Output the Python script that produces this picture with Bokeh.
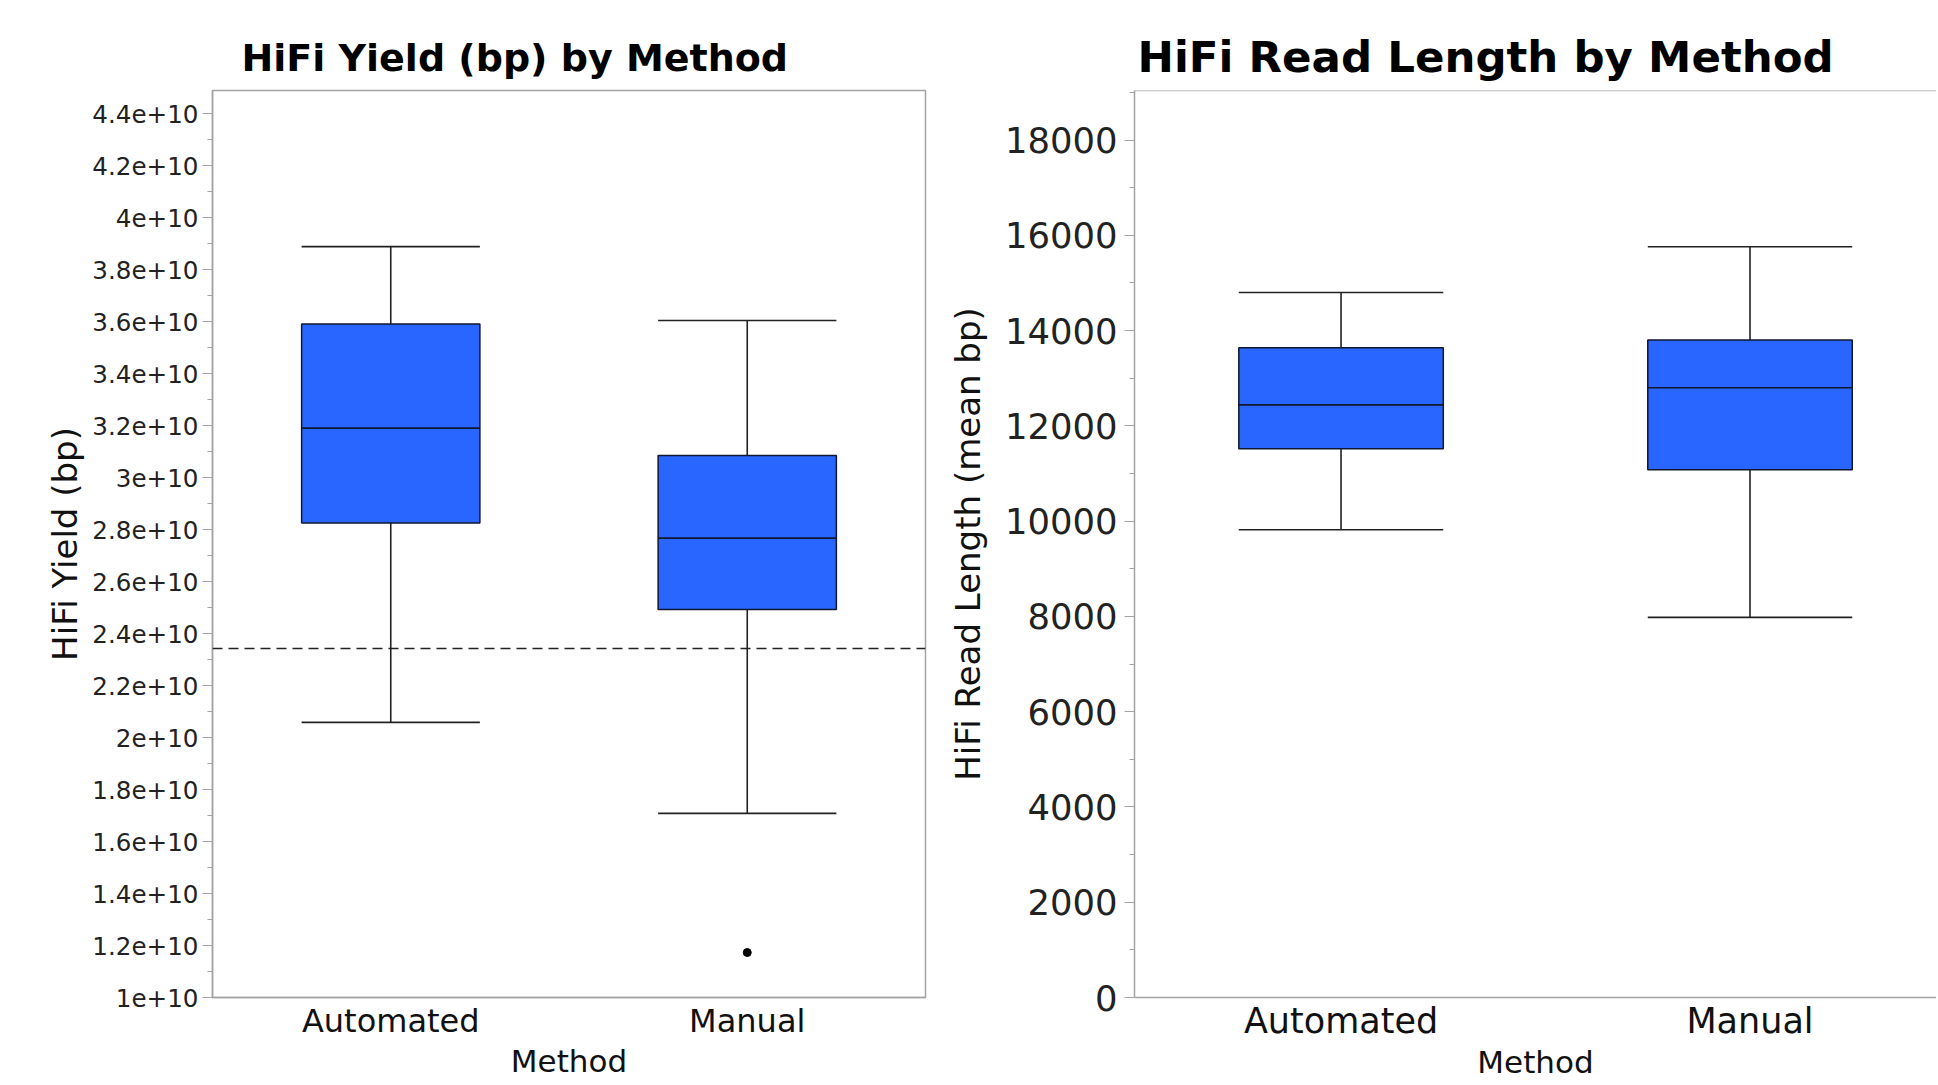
from bokeh.plotting import figure
from bokeh.models import FixedTicker, Span, Range1d
from bokeh.layouts import row
from bokeh.embed import file_html
from bokeh.resources import INLINE

# ---------------- data ----------------
methods = ["Automated", "Manual"]

yield_lower = [2.058e10, 1.708e10]
yield_q1 = [2.825e10, 2.492e10]
yield_median = [3.19e10, 2.767e10]
yield_q3 = [3.59e10, 3.085e10]
yield_upper = [3.888e10, 3.604e10]
yield_outlier_method = ["Manual"]
yield_outlier_value = [1.173e10]
yield_reference = 2.342e10

rl_lower = [9820, 7980]
rl_q1 = [11520, 11080]
rl_median = [12440, 12800]
rl_q3 = [13640, 13800]
rl_upper = [14800, 15760]

yield_ticks = [1.0e10, 1.2e10, 1.4e10, 1.6e10, 1.8e10, 2.0e10, 2.2e10, 2.4e10, 2.6e10,
               2.8e10, 3.0e10, 3.2e10, 3.4e10, 3.6e10, 3.8e10, 4.0e10, 4.2e10, 4.4e10]
yield_tick_labels = ["1e+10", "1.2e+10", "1.4e+10", "1.6e+10", "1.8e+10", "2e+10", "2.2e+10",
                     "2.4e+10", "2.6e+10", "2.8e+10", "3e+10", "3.2e+10", "3.4e+10", "3.6e+10",
                     "3.8e+10", "4e+10", "4.2e+10", "4.4e+10"]
rl_ticks = [0, 2000, 4000, 6000, 8000, 10000, 12000, 14000, 16000, 18000]
rl_tick_labels = ["0", "2000", "4000", "6000", "8000", "10000", "12000", "14000", "16000", "18000"]
x_title = "Method"

FONT = "DejaVu Sans"
BOX_FILL = "#2965FF"
AXIS_GREY = "#a3a3a3"
HEIGHT = 1084


def midpoints(ticks):
    return [(a + b) / 2 for a, b in zip(ticks[:-1], ticks[1:])] + [ticks[-1] + (ticks[1] - ticks[0]) / 2]


def make_plot(width, title, title_size, title_offset, title_standoff, x_start, x_end, y_start, y_end,
              lower, q1, med, q3, upper, ticks, tick_labels, tick_size, cat_size, cat_standoff,
              xlabel_size, ylabel, ylabel_standoff, tick_standoff, border_left, border_right):
    p = figure(width=width, height=HEIGHT, output_backend="svg", toolbar_location=None,
               x_range=Range1d(x_start, x_end), y_range=Range1d(y_start, y_end),
               min_border_left=border_left, min_border_right=border_right,
               min_border_top=90, min_border_bottom=HEIGHT - 997)
    p.background_fill_color = "white"
    p.border_fill_color = "white"
    p.grid.visible = False
    p.outline_line_color = AXIS_GREY
    p.outline_line_width = 1.5

    p.title.text = title
    p.title.text_font = FONT
    p.title.text_font_size = title_size
    p.title.text_font_style = "bold"
    p.title.text_color = "black"
    p.title.align = "left"
    p.title.offset = title_offset
    p.title.standoff = title_standoff

    xs = [i + 0.5 for i in range(len(methods))]
    half = 0.25

    # whiskers
    p.segment(x0=xs, y0=q3, x1=xs, y1=upper, line_color="#222222", line_width=1.6)
    p.segment(x0=xs, y0=q1, x1=xs, y1=lower, line_color="#222222", line_width=1.6)
    p.segment(x0=[x - half for x in xs], y0=upper, x1=[x + half for x in xs], y1=upper,
              line_color="#222222", line_width=1.6)
    p.segment(x0=[x - half for x in xs], y0=lower, x1=[x + half for x in xs], y1=lower,
              line_color="#222222", line_width=1.6)
    # boxes
    p.vbar(x=xs, width=0.5, bottom=q1, top=q3, fill_color=BOX_FILL,
           line_color="#101830", line_width=1.5)
    # medians
    p.segment(x0=[x - half for x in xs], y0=med, x1=[x + half for x in xs], y1=med,
              line_color="#101830", line_width=1.6)

    # x axis
    xa = p.xaxis[0]
    xa.ticker = FixedTicker(ticks=xs)
    xa.major_label_overrides = {x: m for x, m in zip(xs, methods)}
    xa.major_tick_out = 0
    xa.major_tick_in = 0
    xa.minor_tick_out = 0
    xa.minor_tick_in = 0
    xa.axis_line_color = AXIS_GREY
    xa.axis_line_width = 1.5
    xa.major_label_text_font = FONT
    xa.major_label_text_font_size = cat_size
    xa.major_label_text_color = "#111111"
    xa.major_label_standoff = cat_standoff
    xa.axis_label = x_title
    xa.axis_label_text_font = FONT
    xa.axis_label_text_font_size = xlabel_size
    xa.axis_label_text_font_style = "normal"
    xa.axis_label_text_color = "#111111"
    xa.axis_label_standoff = 0

    # y axis
    ya = p.yaxis[0]
    ya.ticker = FixedTicker(ticks=ticks, minor_ticks=midpoints(ticks))
    ya.major_label_overrides = {t: s for t, s in zip(ticks, tick_labels)}
    ya.axis_line_color = AXIS_GREY
    ya.axis_line_width = 1.5
    ya.major_tick_line_color = AXIS_GREY
    ya.minor_tick_line_color = AXIS_GREY
    ya.major_tick_line_width = 1.2
    ya.minor_tick_line_width = 1.2
    ya.major_tick_out = 10
    ya.major_tick_in = 0
    ya.minor_tick_out = 5
    ya.minor_tick_in = 0
    ya.major_label_text_font = FONT
    ya.major_label_text_font_size = tick_size
    ya.major_label_text_color = "#222222"
    ya.major_label_standoff = tick_standoff
    ya.axis_label = ylabel
    ya.axis_label_text_font = FONT
    ya.axis_label_text_font_size = "34px"
    ya.axis_label_text_font_style = "normal"
    ya.axis_label_text_color = "#111111"
    ya.axis_label_standoff = ylabel_standoff
    return p


p1 = make_plot(928, "HiFi Yield (bp) by Method", "38px", 29, 22, 0.0, 2.0, 1.0e10, 4.4885e10,
               yield_lower, yield_q1, yield_median, yield_q3, yield_upper,
               yield_ticks, yield_tick_labels, "24.6px", "32px", 4, "31px",
               "HiFi Yield (bp)", 4, 4, 212, 3)

# outlier and reference line
out_x = [methods.index(m) + 0.5 for m in yield_outlier_method]
p1.scatter(x=out_x, y=yield_outlier_value, size=8, color="black")
p1.add_layout(Span(location=yield_reference, dimension="width", line_color="#222222",
                   line_width=1.5, line_dash="10 6"))

p2 = make_plot(1008, "HiFi Read Length by Method", "43.5px", 3, 18, -0.005, 0.5 + (1936 - 1340.5) / 409,
               0, 19040,
               rl_lower, rl_q1, rl_median, rl_q3, rl_upper,
               rl_ticks, rl_tick_labels, "35.4px", "35px", 3, "31px",
               "HiFi Read Length (mean bp)", 14, 7, 206, 0)
p2.outline_line_color = None
p2.add_layout(Span(location=19040, dimension="width", line_color=AXIS_GREY, line_width=1.5))

layout = row(p1, p2)
open("out.html", "w").write(file_html(layout, INLINE))
